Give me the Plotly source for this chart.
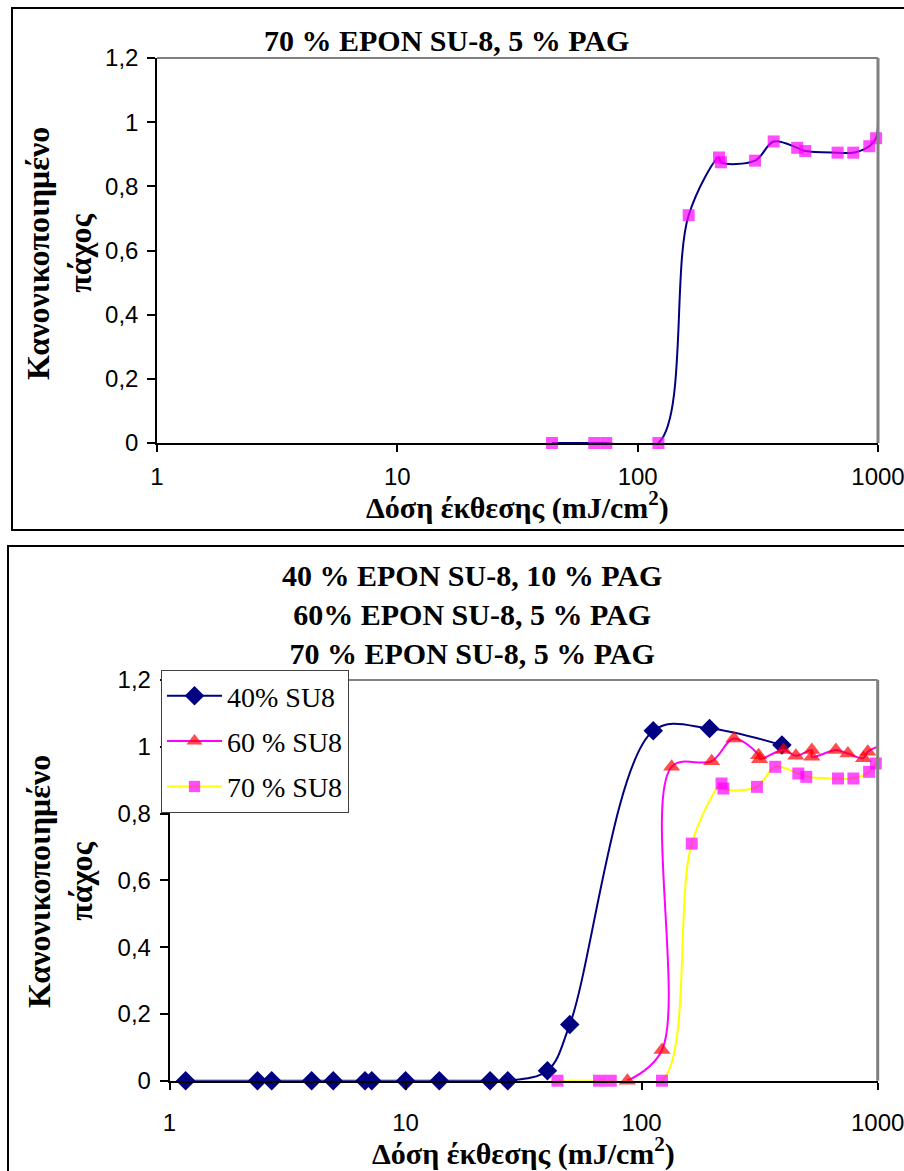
import plotly.graph_objects as go

# ---- data -------------------------------------------------------------
# 70 % EPON SU-8, 5 % PAG (the last point closes the smoothed curve, no marker)
dose_70 = [44, 66, 74, 122, 163, 218, 222, 308, 368, 461, 498, 679, 789, 920, 982, 1000]
thick_70 = [0, 0, 0, 0, 0.71, 0.89, 0.875, 0.88, 0.94, 0.92, 0.91, 0.905, 0.905, 0.925, 0.95, 1.0]

# 40 % EPON SU-8, 10 % PAG
dose_40 = [1.17, 2.36, 2.71, 4.0, 4.94, 6.73, 7.19, 10.0, 13.9, 22.8, 27.1, 39.9, 49.6, 112, 194, 393]
thick_40 = [0, 0, 0, 0, 0, 0, 0, 0, 0, 0, 0, 0.03, 0.168, 1.048, 1.055, 1.005]

# 60 % EPON SU-8, 5 % PAG (last point closes the curve, no marker)
dose_60 = [87, 122, 134, 198, 246, 313, 316, 399, 450, 526, 526, 665, 748, 871, 908, 1000]
thick_60 = [0, 0.092, 0.94, 0.957, 1.025, 0.975, 0.963, 0.99, 0.973, 0.99, 0.97, 0.99, 0.98, 0.966, 0.985, 1.0]

x_tickvals = [1, 10, 100, 1000]
x_ticktext = ["1", "10", "100", "1000"]
y_tickvals = [0, 0.2, 0.4, 0.6, 0.8, 1.0, 1.2]
y_ticktext = ["0", "0,2", "0,4", "0,6", "0,8", "1", "1,2"]

legend_names = ["40% SU8", "60 % SU8", "70 % SU8"]
title_top = "70 % EPON SU-8, 5 % PAG"
title_bottom = "40 % EPON SU-8, 10 % PAG<br>60% EPON SU-8, 5 % PAG<br>70 % EPON SU-8, 5 % PAG"
x_title = "Δόση έκθεσης (mJ/cm<sup>2</sup>)"
y_title = "Κανονικοποιημένο<br>πάχος"

# ---- page geometry (pixels) --------------------------------------------
W, H = 904, 1171


def px(x):
    return x / W


def py(y):
    return 1 - y / H


NAVY = "#000080"
MAGENTA = "#FF00FF"
RED = "#FF0000"
YELLOW = "#FFFF00"
SERIF = "Liberation Serif"
SANS = "Liberation Sans"


def marker_sizes(n, size, last_hidden):
    s = [size] * n
    if last_hidden:
        s[-1] = 0
    return s


no_edge = dict(width=0)

fig = go.Figure()

# top chart: single 70 % series
fig.add_trace(go.Scatter(
    x=dose_70, y=thick_70, mode="lines+markers", xaxis="x", yaxis="y",
    line=dict(color=NAVY, width=2, shape="spline", smoothing=1.0),
    marker=dict(symbol="square", color=MAGENTA, size=marker_sizes(len(dose_70), 12, True), line=no_edge),
    cliponaxis=False, showlegend=False,
))

# bottom chart: three series
fig.add_trace(go.Scatter(
    x=dose_40, y=thick_40, mode="lines+markers", xaxis="x2", yaxis="y2",
    name=legend_names[0], legendgroup="a",
    line=dict(color=NAVY, width=2, shape="spline", smoothing=1.0),
    marker=dict(symbol="diamond", color=NAVY, size=15, line=no_edge),
    cliponaxis=False,
))
fig.add_trace(go.Scatter(
    x=dose_60, y=thick_60, mode="lines+markers", xaxis="x2", yaxis="y2",
    name=legend_names[1], legendgroup="b",
    line=dict(color=MAGENTA, width=2, shape="spline", smoothing=1.0),
    marker=dict(symbol="triangle-up", color=RED, size=marker_sizes(len(dose_60), 15, True), line=no_edge),
    cliponaxis=False,
))
fig.add_trace(go.Scatter(
    x=dose_70, y=thick_70, mode="lines+markers", xaxis="x2", yaxis="y2",
    name=legend_names[2], legendgroup="c",
    line=dict(color=YELLOW, width=2, shape="spline", smoothing=1.0),
    marker=dict(symbol="square", color=MAGENTA, size=marker_sizes(len(dose_70), 12, True), line=no_edge),
    cliponaxis=False,
))

xaxis_common = dict(
    type="log", range=[0, 3], tickvals=x_tickvals, ticktext=x_ticktext,
    showgrid=False, zeroline=False, showline=True, linecolor="black", linewidth=2,
    ticks="outside", ticklen=7, tickcolor="black", tickwidth=1.5,
    tickfont=dict(family=SANS, size=24, color="black"),
    automargin=False, ticklabeloverflow="allow",
)
yaxis_common = dict(
    range=[0, 1.2], tickvals=y_tickvals, ticktext=y_ticktext,
    showgrid=False, zeroline=False, showline=True, linecolor="black", linewidth=1.5,
    ticks="outside", ticklen=8, tickcolor="black", tickwidth=1.5,
    tickfont=dict(family=SANS, size=24, color="black"), ticklabelstandoff=4,
    automargin=False,
)

fig.update_layout(
    width=W, height=H, margin=dict(l=0, r=0, t=0, b=0, autoexpand=False),
    paper_bgcolor="white", plot_bgcolor="white",
    xaxis=dict(domain=[px(157), px(878)], anchor="y", ticklabelstandoff=4, **xaxis_common),
    yaxis=dict(domain=[py(443), py(58)], anchor="x", **yaxis_common),
    xaxis2=dict(domain=[px(169.5), px(877.7)], anchor="y2", ticklabelstandoff=12, **xaxis_common),
    yaxis2=dict(domain=[py(1080.7), py(680)], anchor="x2", **yaxis_common),
    legend=dict(
        x=px(161), y=py(670), xanchor="left", yanchor="top",
        bgcolor="white", bordercolor="#404040", borderwidth=1,
        font=dict(family=SERIF, size=28, color="black"),
        itemwidth=55, tracegroupgap=6,
    ),
)

# outer frames around each chart
fig.add_shape(type="rect", xref="paper", yref="paper",
              x0=px(12), x1=1.05, y0=py(530), y1=py(8),
              line=dict(color="black", width=2), fillcolor="rgba(0,0,0,0)", layer="below")
fig.add_shape(type="rect", xref="paper", yref="paper",
              x0=px(8), x1=1.05, y0=-0.05, y1=py(546),
              line=dict(color="black", width=2), fillcolor="rgba(0,0,0,0)", layer="below")

# grey top and right edges of the plot areas
for xr, yr in (("x domain", "y domain"), ("x2 domain", "y2 domain")):
    fig.add_shape(type="line", xref=xr, yref=yr, x0=0, x1=1, y0=1, y1=1,
                  line=dict(color="#808080", width=2))
    fig.add_shape(type="line", xref=xr, yref=yr, x0=1, x1=1, y0=0, y1=1,
                  line=dict(color="#808080", width=3))

title_font = dict(family=SERIF, size=30, color="black", weight="bold")
ytitle_font = dict(family=SERIF, size=32, color="black", weight="bold")

fig.add_annotation(text=title_top, xref="paper", yref="paper", x=px(446), y=py(40),
                   xanchor="center", yanchor="middle", showarrow=False, font=title_font)
fig.add_annotation(text=title_bottom, xref="paper", yref="paper", x=px(472), y=py(614),
                   xanchor="center", yanchor="middle", showarrow=False, font=title_font)

fig.add_annotation(text=x_title, xref="paper", yref="paper", x=px(517.5), y=py(505),
                   xanchor="center", yanchor="middle", showarrow=False, font=title_font)
fig.add_annotation(text=x_title, xref="paper", yref="paper", x=px(523.6), y=py(1151),
                   xanchor="center", yanchor="middle", showarrow=False, font=title_font)

fig.add_annotation(text=y_title, xref="paper", yref="paper", x=px(59), y=py(254),
                   xanchor="center", yanchor="middle", textangle=-90, showarrow=False,
                   font=ytitle_font)
fig.add_annotation(text=y_title, xref="paper", yref="paper", x=px(60), y=py(882),
                   xanchor="center", yanchor="middle", textangle=-90, showarrow=False,
                   font=ytitle_font)

fig.write_html("out.html")
